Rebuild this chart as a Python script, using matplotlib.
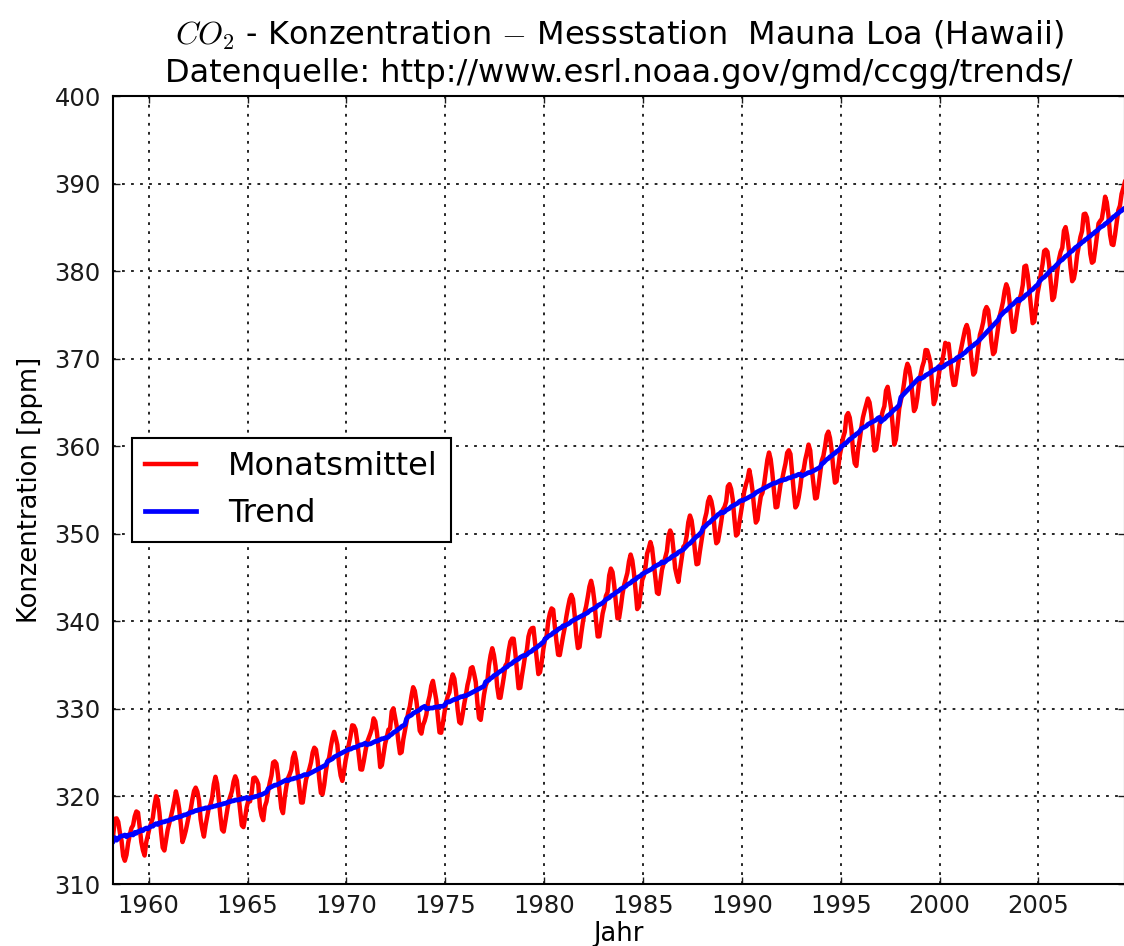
import numpy as np
import matplotlib
matplotlib.use('Agg')
import matplotlib.pyplot as plt

# monthly means Mauna Loa, starting March 1958 (ppm)
start_year = 1958
start_month = 3
monatsmittel = [
    315.71, 317.45, 317.50, 317.10, 315.86, 314.93, 313.20, 312.66, 313.33, 314.67,
    315.62, 316.38, 316.71, 317.72, 318.29, 318.15, 316.54, 314.80, 313.84, 313.26, 314.80, 315.58,
    316.43, 316.97, 317.58, 319.02, 320.03, 319.59, 318.18, 315.91, 314.16, 313.83, 315.00, 316.19,
    316.93, 317.70, 318.54, 319.48, 320.58, 319.77, 318.57, 316.79, 314.80, 315.38, 316.10, 317.01,
    317.94, 318.56, 319.68, 320.63, 321.01, 320.55, 319.58, 317.40, 316.26, 315.42, 316.69, 317.69,
    318.74, 319.08, 319.86, 321.39, 322.25, 321.47, 319.74, 317.77, 316.21, 315.99, 317.12, 318.31,
    319.40, 320.00, 320.60, 321.70, 322.30, 321.80, 320.10, 318.30, 316.70, 316.50, 317.60, 318.80,
    319.57, 319.44, 320.44, 322.09, 322.16, 321.87, 321.39, 318.80, 317.81, 317.30, 318.87, 319.42,
    320.62, 321.59, 322.39, 323.87, 324.01, 323.75, 322.39, 320.37, 318.64, 318.10, 319.79, 321.08,
    322.07, 322.50, 323.04, 324.42, 325.00, 324.09, 322.55, 320.92, 319.31, 319.31, 320.72, 321.96,
    322.57, 323.15, 323.89, 325.02, 325.57, 325.36, 324.14, 322.03, 320.41, 320.25, 321.31, 322.84,
    324.00, 324.42, 325.64, 326.66, 327.38, 326.70, 325.89, 323.67, 322.38, 321.78, 322.85, 324.12,
    325.06, 325.98, 326.93, 328.13, 328.07, 327.66, 326.35, 324.69, 323.10, 323.07, 324.01, 325.13,
    326.17, 326.68, 327.18, 327.78, 328.92, 328.57, 327.34, 325.46, 323.36, 323.57, 324.80, 326.01,
    326.77, 327.63, 327.75, 329.72, 330.07, 329.09, 328.05, 326.32, 324.93, 325.06, 326.50, 327.55,
    328.54, 329.56, 330.30, 331.50, 332.48, 332.07, 330.87, 329.31, 327.51, 327.18, 328.16, 328.64,
    329.35, 330.71, 331.48, 332.65, 333.20, 332.16, 331.07, 329.12, 327.32, 327.28, 328.30, 329.58,
    330.73, 331.46, 331.90, 333.17, 333.94, 333.45, 331.98, 329.95, 328.50, 328.34, 329.37, 330.58,
    331.59, 332.75, 333.52, 334.64, 334.77, 334.00, 333.06, 330.68, 328.95, 328.75, 330.15, 331.62,
    332.66, 333.13, 334.95, 336.13, 336.93, 336.17, 334.88, 332.56, 331.29, 331.27, 332.41, 333.60,
    334.95, 335.25, 336.66, 337.69, 338.03, 338.01, 336.41, 334.41, 332.37, 332.41, 333.75, 334.90,
    336.14, 336.69, 338.27, 338.95, 339.21, 339.26, 337.54, 335.75, 333.98, 334.19, 335.31, 336.81,
    337.90, 338.34, 340.01, 340.93, 341.48, 341.33, 339.40, 337.70, 336.19, 336.15, 337.27, 338.32,
    339.29, 340.55, 341.61, 342.53, 343.03, 342.54, 340.78, 338.44, 336.95, 337.08, 338.58, 339.88,
    340.96, 341.73, 342.81, 343.97, 344.63, 343.79, 342.32, 340.09, 338.28, 338.29, 339.60, 340.90,
    341.68, 342.90, 343.33, 345.25, 346.03, 345.63, 344.19, 342.27, 340.35, 340.38, 341.59, 343.05,
    344.10, 344.79, 345.52, 346.84, 347.63, 346.98, 345.53, 343.55, 341.40, 341.67, 343.10, 344.70,
    345.21, 346.16, 347.74, 348.33, 349.06, 348.38, 346.72, 345.02, 343.27, 343.13, 344.49, 345.88,
    346.56, 347.28, 348.01, 349.77, 350.38, 349.93, 348.16, 346.08, 345.22, 344.51, 345.93, 347.21,
    348.52, 348.73, 349.73, 351.31, 352.09, 351.53, 350.11, 348.08, 346.52, 346.59, 347.96, 349.16,
    350.39, 351.64, 352.40, 353.69, 354.21, 353.72, 352.69, 350.40, 348.92, 349.13, 350.20, 351.41,
    352.76, 353.07, 353.68, 355.42, 355.67, 355.12, 353.90, 351.67, 349.80, 349.99, 351.30, 352.52,
    353.79, 354.88, 355.65, 356.27, 357.29, 356.32, 354.88, 352.89, 351.28, 351.59, 353.05, 354.27,
    354.67, 355.65, 357.05, 358.46, 359.28, 358.52, 356.95, 354.91, 353.02, 353.08, 354.42, 355.69,
    356.24, 357.18, 358.03, 359.25, 359.54, 359.11, 357.00, 354.86, 353.01, 353.31, 354.16, 355.40,
    357.00, 357.31, 358.47, 359.27, 360.19, 359.52, 357.33, 355.64, 354.03, 354.12, 355.41, 356.91,
    358.34, 358.89, 359.95, 361.25, 361.67, 360.94, 359.55, 357.49, 355.84, 356.00, 357.58, 359.04,
    359.96, 361.00, 361.64, 363.45, 363.79, 363.26, 361.90, 359.46, 358.06, 357.75, 359.56, 360.70,
    362.09, 363.29, 364.06, 364.76, 365.45, 365.01, 363.70, 361.54, 359.51, 359.65, 360.80, 362.38,
    363.18, 364.00, 364.57, 366.35, 366.79, 365.62, 364.47, 362.51, 360.19, 360.77, 362.43, 364.28,
    365.24, 365.98, 367.24, 368.66, 369.42, 368.99, 367.82, 365.95, 364.02, 364.40, 365.52, 367.13,
    368.18, 369.07, 369.68, 370.99, 370.96, 370.30, 369.45, 366.90, 364.81, 365.37, 366.72, 368.10,
    369.29, 369.54, 370.60, 371.81, 371.58, 371.70, 369.86, 368.13, 367.00, 367.03, 368.37, 369.67,
    370.59, 371.51, 372.43, 373.37, 373.85, 373.22, 371.50, 369.61, 368.18, 368.45, 369.76, 371.24,
    372.72, 373.37, 374.19, 375.47, 375.90, 375.55, 374.01, 371.88, 370.52, 370.78, 372.17, 373.62,
    374.87, 375.63, 376.48, 377.74, 378.50, 377.99, 376.51, 374.52, 373.06, 373.23, 374.64, 375.91,
    376.79, 377.37, 378.41, 380.52, 380.63, 379.57, 377.79, 375.86, 374.06, 374.24, 375.86, 377.48,
    378.46, 379.73, 380.77, 382.29, 382.45, 382.21, 380.74, 378.74, 376.70, 377.00, 378.35, 380.11,
    381.38, 382.19, 382.67, 384.61, 385.03, 384.05, 382.46, 380.41, 378.85, 379.13, 380.15, 381.82,
    382.89, 383.90, 384.58, 386.50, 386.56, 386.10, 384.50, 381.99, 380.96, 381.12, 382.45, 383.95,
    385.44, 385.73, 385.97, 387.16, 388.50, 387.88, 386.38, 384.15, 383.07, 382.98, 384.11, 385.54,
    386.94, 387.48, 388.82, 389.46, 390.18,
]

# deseasonalized trend, same months
trend = [
    314.9, 315.3, 315.0, 315.2, 315.4, 315.5, 315.5, 315.6, 315.4, 315.6,
    315.6, 315.7, 315.6, 315.9, 315.8, 316.0, 316.0, 316.2, 316.1, 316.3, 316.4, 316.3,
    316.5, 316.6, 316.6, 316.8, 316.9, 316.8, 317.0, 317.0, 317.1, 317.1, 317.2, 317.2,
    317.3, 317.4, 317.4, 317.5, 317.6, 317.6, 317.7, 317.7, 317.8, 317.9, 317.9, 318.0,
    318.1, 318.2, 318.2, 318.3, 318.4, 318.4, 318.5, 318.5, 318.6, 318.6, 318.7, 318.7,
    318.7, 318.8, 318.8, 318.9, 318.9, 319.0, 319.0, 319.1, 319.1, 319.2, 319.2, 319.3,
    319.4, 319.4, 319.5, 319.5, 319.6, 319.6, 319.6, 319.7, 319.7, 319.8, 319.8, 319.9,
    319.7, 319.8, 319.9, 319.9, 320.0, 320.0, 320.1, 320.2, 320.2, 320.3, 320.4, 320.5,
    320.9, 321.0, 321.1, 321.2, 321.3, 321.3, 321.4, 321.5, 321.6, 321.7, 321.8, 321.9,
    321.8, 321.9, 322.0, 322.0, 322.1, 322.1, 322.2, 322.3, 322.3, 322.4, 322.5, 322.5,
    322.5, 322.6, 322.7, 322.8, 322.9, 323.0, 323.1, 323.2, 323.3, 323.4, 323.5, 323.6,
    324.0, 324.1, 324.2, 324.3, 324.5, 324.6, 324.7, 324.8, 324.9, 325.0, 325.1, 325.2,
    325.3, 325.4, 325.4, 325.5, 325.6, 325.6, 325.7, 325.8, 325.9, 325.9, 326.0, 326.1,
    325.9, 326.0, 326.0, 326.1, 326.2, 326.3, 326.3, 326.4, 326.5, 326.6, 326.6, 326.7,
    326.7, 326.8, 327.0, 327.1, 327.3, 327.4, 327.5, 327.7, 327.8, 328.0, 328.1, 328.2,
    328.9, 329.1, 329.2, 329.3, 329.5, 329.6, 329.7, 329.8, 329.9, 330.1, 330.2, 330.3,
    330.0, 330.0, 330.1, 330.1, 330.1, 330.2, 330.2, 330.2, 330.3, 330.3, 330.3, 330.4,
    330.7, 330.8, 330.8, 330.9, 331.0, 331.1, 331.1, 331.2, 331.3, 331.4, 331.4, 331.5,
    331.5, 331.6, 331.7, 331.8, 331.9, 332.0, 332.1, 332.2, 332.3, 332.4, 332.5, 332.6,
    333.1, 333.2, 333.3, 333.5, 333.6, 333.8, 333.9, 334.0, 334.2, 334.3, 334.4, 334.6,
    334.7, 334.8, 335.0, 335.1, 335.2, 335.4, 335.5, 335.6, 335.7, 335.9, 336.0, 336.1,
    336.1, 336.2, 336.4, 336.5, 336.6, 336.8, 336.9, 337.0, 337.2, 337.3, 337.5, 337.6,
    338.0, 338.1, 338.3, 338.4, 338.5, 338.7, 338.8, 338.9, 339.1, 339.2, 339.3, 339.5,
    339.5, 339.6, 339.7, 339.8, 340.0, 340.1, 340.2, 340.3, 340.4, 340.5, 340.6, 340.7,
    340.8, 340.9, 341.0, 341.2, 341.3, 341.4, 341.5, 341.6, 341.8, 341.9, 342.0, 342.1,
    342.3, 342.5, 342.6, 342.7, 342.9, 343.0, 343.1, 343.3, 343.4, 343.5, 343.7, 343.8,
    343.9, 344.0, 344.2, 344.3, 344.4, 344.6, 344.7, 344.8, 345.0, 345.1, 345.2, 345.4,
    345.5, 345.6, 345.7, 345.8, 345.9, 346.0, 346.2, 346.3, 346.4, 346.5, 346.6, 346.8,
    346.7, 346.8, 347.0, 347.1, 347.2, 347.4, 347.5, 347.6, 347.7, 347.9, 348.0, 348.1,
    348.2, 348.4, 348.6, 348.8, 348.9, 349.1, 349.3, 349.5, 349.7, 349.8, 350.0, 350.2,
    350.7, 350.8, 351.0, 351.2, 351.3, 351.5, 351.7, 351.8, 352.0, 352.2, 352.3, 352.5,
    352.4, 352.5, 352.7, 352.8, 352.9, 353.1, 353.2, 353.3, 353.4, 353.5, 353.7, 353.8,
    353.8, 353.9, 354.0, 354.1, 354.2, 354.3, 354.4, 354.5, 354.7, 354.8, 354.9, 355.0,
    355.1, 355.2, 355.3, 355.4, 355.5, 355.6, 355.7, 355.8, 355.8, 355.9, 356.0, 356.1,
    356.1, 356.2, 356.2, 356.3, 356.4, 356.4, 356.5, 356.6, 356.6, 356.7, 356.8, 356.8,
    356.6, 356.7, 356.8, 356.9, 357.0, 357.0, 357.1, 357.2, 357.3, 357.4, 357.5, 357.6,
    358.0, 358.1, 358.3, 358.5, 358.6, 358.8, 358.9, 359.1, 359.2, 359.4, 359.5, 359.7,
    360.0, 360.1, 360.3, 360.4, 360.6, 360.8, 360.9, 361.1, 361.2, 361.4, 361.5, 361.7,
    362.0, 362.1, 362.2, 362.3, 362.5, 362.6, 362.7, 362.8, 362.9, 363.0, 363.2, 363.3,
    362.8, 363.0, 363.1, 363.3, 363.5, 363.6, 363.8, 364.0, 364.2, 364.3, 364.5, 364.7,
    365.6, 365.8, 366.0, 366.2, 366.4, 366.6, 366.8, 367.0, 367.2, 367.4, 367.6, 367.8,
    367.7, 367.8, 367.9, 368.1, 368.2, 368.3, 368.4, 368.6, 368.7, 368.8, 368.9, 369.1,
    368.9, 369.0, 369.1, 369.3, 369.4, 369.5, 369.6, 369.7, 369.8, 369.9, 370.1, 370.2,
    370.3, 370.4, 370.6, 370.7, 370.9, 371.1, 371.2, 371.4, 371.5, 371.7, 371.8, 372.0,
    372.2, 372.4, 372.6, 372.8, 373.0, 373.2, 373.4, 373.6, 373.8, 374.0, 374.2, 374.4,
    374.8, 375.0, 375.2, 375.4, 375.5, 375.7, 375.9, 376.1, 376.2, 376.4, 376.6, 376.8,
    376.6, 376.8, 376.9, 377.1, 377.3, 377.4, 377.6, 377.8, 377.9, 378.1, 378.3, 378.4,
    378.8, 379.0, 379.2, 379.3, 379.5, 379.7, 379.9, 380.1, 380.3, 380.4, 380.6, 380.8,
    381.0, 381.2, 381.3, 381.5, 381.7, 381.8, 382.0, 382.2, 382.3, 382.5, 382.7, 382.8,
    383.0, 383.1, 383.3, 383.4, 383.6, 383.7, 383.9, 384.0, 384.2, 384.3, 384.5, 384.6,
    384.8, 385.0, 385.1, 385.2, 385.4, 385.5, 385.7, 385.8, 386.0, 386.2, 386.3, 386.5,
    386.6, 386.8, 386.9, 387.1, 387.2,
]

yticks = [310, 320, 330, 340, 350, 360, 370, 380, 390, 400]
xticks = [1960, 1965, 1970, 1975, 1980, 1985, 1990, 1995, 2000, 2005]

plt.rcParams['mathtext.fontset'] = 'cm'
plt.rcParams['lines.scale_dashes'] = False

# decimal year at the middle of each month
t = start_year + (start_month - 1 + np.arange(len(monatsmittel)) + 0.5) / 12.0

fig = plt.figure(figsize=(11.24, 9.46), dpi=100)
ax = fig.add_axes([0.1008, 0.0655, 0.9, 0.833])

ax.plot(t, monatsmittel, color='#ff0000', lw=3.2, label='Monatsmittel')
ax.plot(t, trend, color='#0000ff', lw=3.4, label='Trend')

ax.set_xlim(t[0], t[-1])
ax.set_ylim(310, 400)
ax.set_xticks(xticks)
ax.set_yticks(yticks)
ax.grid(True, color='black', linestyle=(0, (2, 4.5)), linewidth=1.2)
ax.tick_params(direction='in', top=True, right=True, length=5, width=1,
               labelsize=17.5, colors='#1a1a1a')
ax.tick_params(axis='x', pad=7)
ax.tick_params(axis='y', pad=9)
for s in ax.spines.values():
    s.set_linewidth(1.5)

ax.set_xlabel('Jahr', fontsize=18.5, labelpad=2)
ax.set_ylabel('Konzentration [ppm]', fontsize=18.5, labelpad=8)
ax.set_title('$CO_2$ - Konzentration $-$ Messstation  Mauna Loa (Hawaii)\n'
             'Datenquelle: http://www.esrl.noaa.gov/gmd/ccgg/trends/',
             fontsize=23, pad=10, linespacing=1.25)

leg = ax.legend(loc='center left', fontsize=23, fancybox=False, framealpha=1,
                edgecolor='black', handlelength=1.6, handletextpad=1.0,
                borderaxespad=0.6)
leg.get_frame().set_linewidth(1.5)

fig.savefig('out.png', dpi=100)
